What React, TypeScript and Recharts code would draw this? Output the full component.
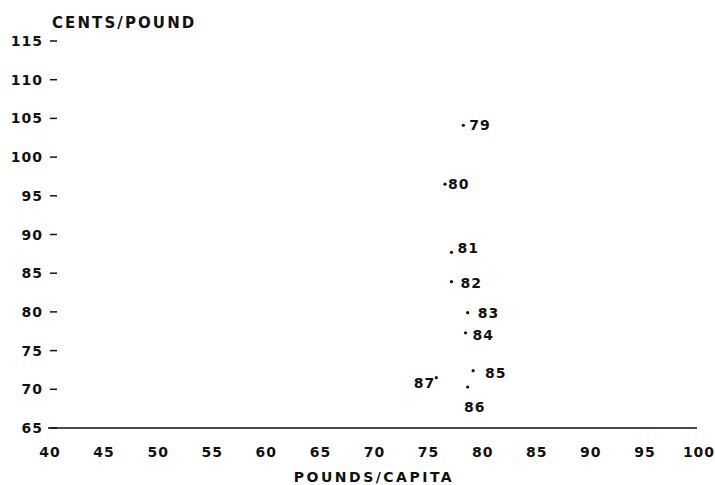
import { ScatterChart, Scatter, XAxis, YAxis, Label } from 'recharts'

const years = ['79', '80', '81', '82', '83', '84', '85', '86', '87']
const poundsPerCapita = [78.4, 76.7, 77.3, 77.3, 78.8, 78.6, 79.3, 78.8, 75.9]
const centsPerPound = [104.1, 96.5, 87.7, 83.9, 79.9, 77.3, 72.4, 70.3, 71.5]

const xTicks = [40, 45, 50, 55, 60, 65, 70, 75, 80, 85, 90, 95, 100]
const yTicks = [65, 70, 75, 80, 85, 90, 95, 100, 105, 110, 115]

// where each year's label sits relative to its dot
const labelPlacement: Record<string, { dx: number; dy: number; anchor: 'start' | 'middle' | 'end' }> = {
  '79': { dx: 6, dy: 0, anchor: 'start' },
  '80': { dx: 3, dy: 0, anchor: 'start' },
  '81': { dx: 6, dy: -4, anchor: 'start' },
  '82': { dx: 9, dy: 1, anchor: 'start' },
  '83': { dx: 10, dy: 0, anchor: 'start' },
  '84': { dx: 7, dy: 2, anchor: 'start' },
  '85': { dx: 12, dy: 2, anchor: 'start' },
  '86': { dx: 7, dy: 20, anchor: 'middle' },
  '87': { dx: -1, dy: 5, anchor: 'end' },
}

const points = years.map((year, i) => ({
  year,
  pounds: poundsPerCapita[i],
  cents: centsPerPound[i],
}))

const FONT = '"DejaVu Sans", sans-serif'
const INK = '#111'

const textStyle = {
  fontFamily: FONT,
  fontWeight: 700,
  fontSize: 14,
  letterSpacing: 1,
  fill: INK,
}

function YTick(props: any) {
  const { x, y, payload } = props
  return (
    <g>
      <text x={x} y={y} textAnchor="end" dominantBaseline="central" style={textStyle}>
        {payload.value}
      </text>
      <line x1={x + 7} x2={x + 14} y1={y} y2={y} stroke={INK} strokeWidth={1.5} />
    </g>
  )
}

function XTick(props: any) {
  const { x, y, payload } = props
  return (
    <text x={x + 2} y={y} textAnchor="middle" dominantBaseline="central" style={textStyle}>
      {payload.value}
    </text>
  )
}

function YearDot(props: any) {
  const { cx, cy, payload } = props
  const place = labelPlacement[payload.year]
  return (
    <g>
      <circle cx={cx} cy={cy} r={1.6} fill={INK} />
      <text
        x={cx + place.dx}
        y={cy + place.dy}
        textAnchor={place.anchor}
        dominantBaseline="central"
        style={textStyle}
      >
        {payload.year}
      </text>
    </g>
  )
}

export default function App() {
  return (
    <div style={{ position: 'absolute', left: 0, top: 0, width: 715, height: 485, background: '#fff' }}>
      <ScatterChart width={715} height={485} margin={{ top: 41, right: 18, bottom: 0, left: 0 }}>
        <XAxis
          type="number"
          dataKey="pounds"
          domain={[40, 100]}
          ticks={xTicks}
          interval={0}
          height={57}
          tickSize={0}
          tickMargin={24}
          tickLine={false}
          axisLine={{ stroke: INK, strokeWidth: 1.5 }}
          tick={<XTick />}
        >
          <Label
            content={() => (
              <text x={374} y={477} textAnchor="middle" dominantBaseline="central" style={{ ...textStyle, fontSize: 14, letterSpacing: 2.5 }}>
                POUNDS/CAPITA
              </text>
            )}
          />
        </XAxis>
        <YAxis
          type="number"
          dataKey="cents"
          domain={[65, 115]}
          ticks={yTicks}
          interval={0}
          width={48}
          tickSize={0}
          tickMargin={5}
          tickLine={false}
          axisLine={false}
          tick={<YTick />}
        >
          <Label
            content={() => (
              <text x={52} y={23} textAnchor="start" dominantBaseline="central" style={{ ...textStyle, fontSize: 15, letterSpacing: 2.1 }}>
                CENTS/POUND
              </text>
            )}
          />
        </YAxis>
        <Scatter data={points} shape={<YearDot />} isAnimationActive={false} />
      </ScatterChart>
    </div>
  )
}
